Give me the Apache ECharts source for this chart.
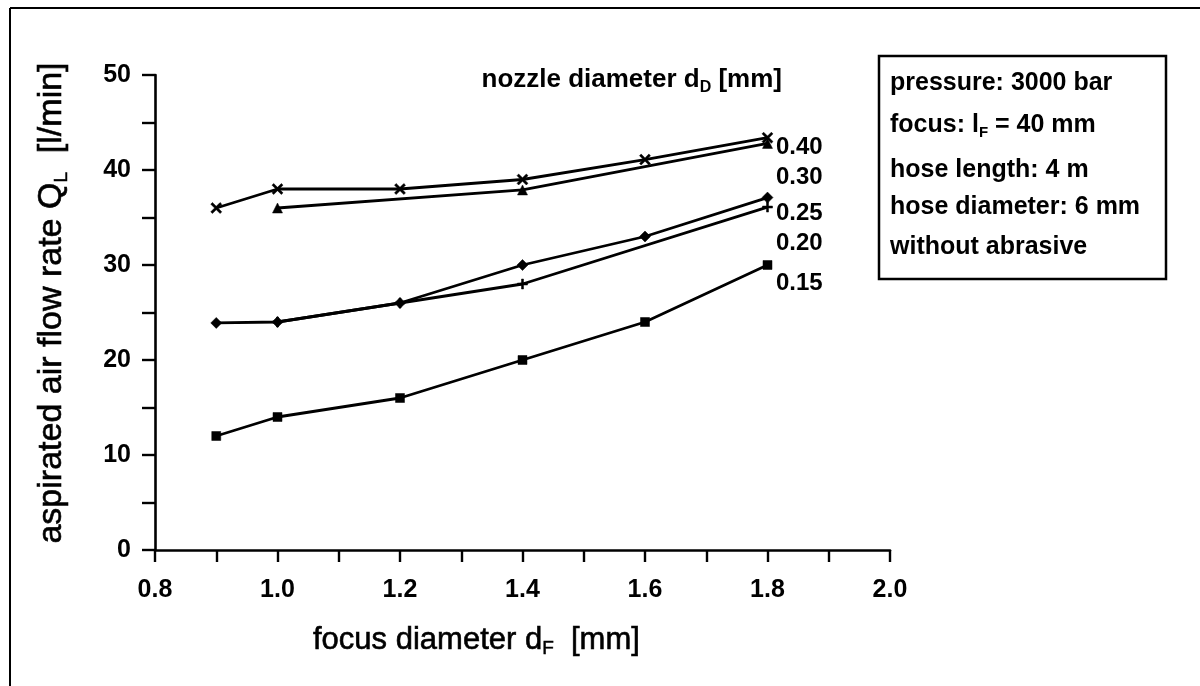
<!DOCTYPE html>
<html>
<head>
<meta charset="utf-8">
<script src="https://cdn.jsdelivr.net/npm/echarts@6/dist/echarts.min.js"></script>
<style>
html,body{margin:0;padding:0;background:#fff;}
#chart{width:1200px;height:686px;}
</style>
</head>
<body>
<div id="chart"></div>
<script>
// ---- data ----
const xTickLabels = ['0.8', '1.0', '1.2', '1.4', '1.6', '1.8', '2.0'];
const yTickLabels = ['0', '10', '20', '30', '40', '50'];
const nozzleLabels = ['0.40', '0.30', '0.25', '0.20', '0.15'];

const nozzle040_x = [0.9, 1.0, 1.2, 1.4, 1.6, 1.8];
const nozzle040_y = [36, 38, 38, 39, 41.1, 43.4];
const nozzle030_x = [1.0, 1.4, 1.8];
const nozzle030_y = [36, 37.9, 42.8];
const nozzle025_x = [0.9, 1.0, 1.2, 1.4, 1.6, 1.8];
const nozzle025_y = [23.9, 24, 26, 30, 33, 37.1];
const nozzle020_x = [1.0, 1.2, 1.4, 1.8];
const nozzle020_y = [24, 26, 28, 36.1];
const nozzle015_x = [0.9, 1.0, 1.2, 1.4, 1.6, 1.8];
const nozzle015_y = [12, 14, 16, 20, 24, 30];

const infoLines = [
  'pressure: 3000 bar',
  'focus: l{sub|F} = 40 mm',
  'hose length: 4 m',
  'hose diameter: 6 mm',
  'without abrasive'
];

// ---- chart ----
const FONT = 'Liberation Sans';
const pair = (xs, ys) => xs.map((x, i) => [x, ys[i]]);
const xSymbol = 'path://M0,1.5L1.5,0L5,3.5L8.5,0L10,1.5L6.5,5L10,8.5L8.5,10L5,6.5L1.5,10L0,8.5L3.5,5Z';
const plusSymbol = 'path://M4,0L6,0L6,4L10,4L10,6L6,6L6,10L4,10L4,6L0,6L0,4L4,4Z';

function lineSeries(name, data, symbol, size) {
  return {
    name: name, type: 'line', data: data,
    symbol: symbol, symbolSize: size,
    lineStyle: { color: '#000', width: 2.8 },
    itemStyle: { color: '#000', borderColor: '#000', borderWidth: 0.5 },
    animation: false, z: 3
  };
}

const chart = echarts.init(document.getElementById('chart'), null, { renderer: 'canvas' });

const labelYs = [147, 177, 213, 243, 283];
const infoYs = [83, 125, 170, 207, 247];

const graphics = [
  // outer frame (top and left)
  { type: 'line', shape: { x1: 10, y1: 8, x2: 1200, y2: 8 }, style: { stroke: '#000', lineWidth: 2 } },
  { type: 'line', shape: { x1: 10, y1: 8, x2: 10, y2: 686 }, style: { stroke: '#000', lineWidth: 2 } },
  // info box
  { type: 'rect', shape: { x: 879, y: 56, width: 287, height: 223 }, style: { fill: 'none', stroke: '#000', lineWidth: 2.5 } },
  // y-axis title
  { type: 'text', x: 52, y: 303, rotation: Math.PI / 2,
    style: { text: 'aspirated air flow rate Q{sub|L}  [l/min]', align: 'center', verticalAlign: 'middle',
      font: '34px "' + FONT + '"', fill: '#000', stroke: '#000', lineWidth: 0.6, lineHeight: 38,
      rich: { sub: { fontSize: 19, fontFamily: FONT, verticalAlign: 'bottom', lineHeight: 19, fill: '#000', stroke: '#000', lineWidth: 0.5 } } } },
  // x-axis title
  { type: 'text', x: 313, y: 640,
    style: { text: 'focus diameter d{sub|F}  [mm]', align: 'left', verticalAlign: 'middle',
      font: '31px "' + FONT + '"', fill: '#000', stroke: '#000', lineWidth: 0.6, lineHeight: 36,
      rich: { sub: { fontSize: 19, fontFamily: FONT, verticalAlign: 'bottom', lineHeight: 19, fill: '#000', stroke: '#000', lineWidth: 0.5 } } } },
  // nozzle heading
  { type: 'text', x: 782, y: 80,
    style: { text: 'nozzle diameter d{sub|D} [mm]', align: 'right', verticalAlign: 'middle',
      font: 'bold 26px "' + FONT + '"', fill: '#000', lineHeight: 32,
      rich: { sub: { fontSize: 16, fontWeight: 'bold', fontFamily: FONT, verticalAlign: 'bottom', lineHeight: 16, fill: '#000' } } } }
];

nozzleLabels.forEach((t, i) => {
  graphics.push({ type: 'text', x: 776, y: labelYs[i],
    style: { text: t, align: 'left', verticalAlign: 'middle', font: 'bold 24px "' + FONT + '"', fill: '#000' } });
});
infoLines.forEach((t, i) => {
  graphics.push({ type: 'text', x: 890, y: infoYs[i],
    style: { text: t, align: 'left', verticalAlign: 'middle', font: 'bold 25px "' + FONT + '"', fill: '#000', lineHeight: 30,
      rich: { sub: { fontSize: 15, fontWeight: 'bold', fontFamily: FONT, verticalAlign: 'bottom', lineHeight: 14, fill: '#000' } } } });
});

const option = {
  backgroundColor: '#fff',
  animation: false,
  grid: { left: 155, right: 310, top: 75, bottom: 136, containLabel: false },
  xAxis: {
    type: 'value', min: 0.8, max: 2.0, interval: 0.1,
    axisLine: { show: true, onZero: false, lineStyle: { color: '#000', width: 2.6 } },
    axisTick: { show: true, inside: false, length: 12, lineStyle: { color: '#000', width: 2.4 } },
    splitLine: { show: false },
    axisLabel: {
      margin: 28, color: '#000', fontFamily: FONT, fontWeight: 'bold', fontSize: 25,
      formatter: v => { const k = Math.round(v * 10); return (k % 2 === 0) ? xTickLabels[(k - 8) / 2] : ''; }
    }
  },
  yAxis: {
    type: 'value', min: 0, max: 50, interval: 5,
    axisLine: { show: true, lineStyle: { color: '#000', width: 2.6 } },
    axisTick: { show: true, inside: false, length: 13, lineStyle: { color: '#000', width: 2.4 } },
    splitLine: { show: false },
    axisLabel: {
      margin: 24, color: '#000', fontFamily: FONT, fontWeight: 'bold', fontSize: 25,
      formatter: v => (Math.round(v) % 10 === 0) ? yTickLabels[Math.round(v) / 10] : ''
    }
  },
  series: [
    lineSeries('0.40', pair(nozzle040_x, nozzle040_y), xSymbol, 11),
    lineSeries('0.30', pair(nozzle030_x, nozzle030_y), 'triangle', 10),
    lineSeries('0.25', pair(nozzle025_x, nozzle025_y), 'diamond', 11),
    lineSeries('0.20', pair(nozzle020_x, nozzle020_y), plusSymbol, 10),
    lineSeries('0.15', pair(nozzle015_x, nozzle015_y), 'rect', 9)
  ],
  graphic: graphics
};
chart.setOption(option);
</script>
</body>
</html>
